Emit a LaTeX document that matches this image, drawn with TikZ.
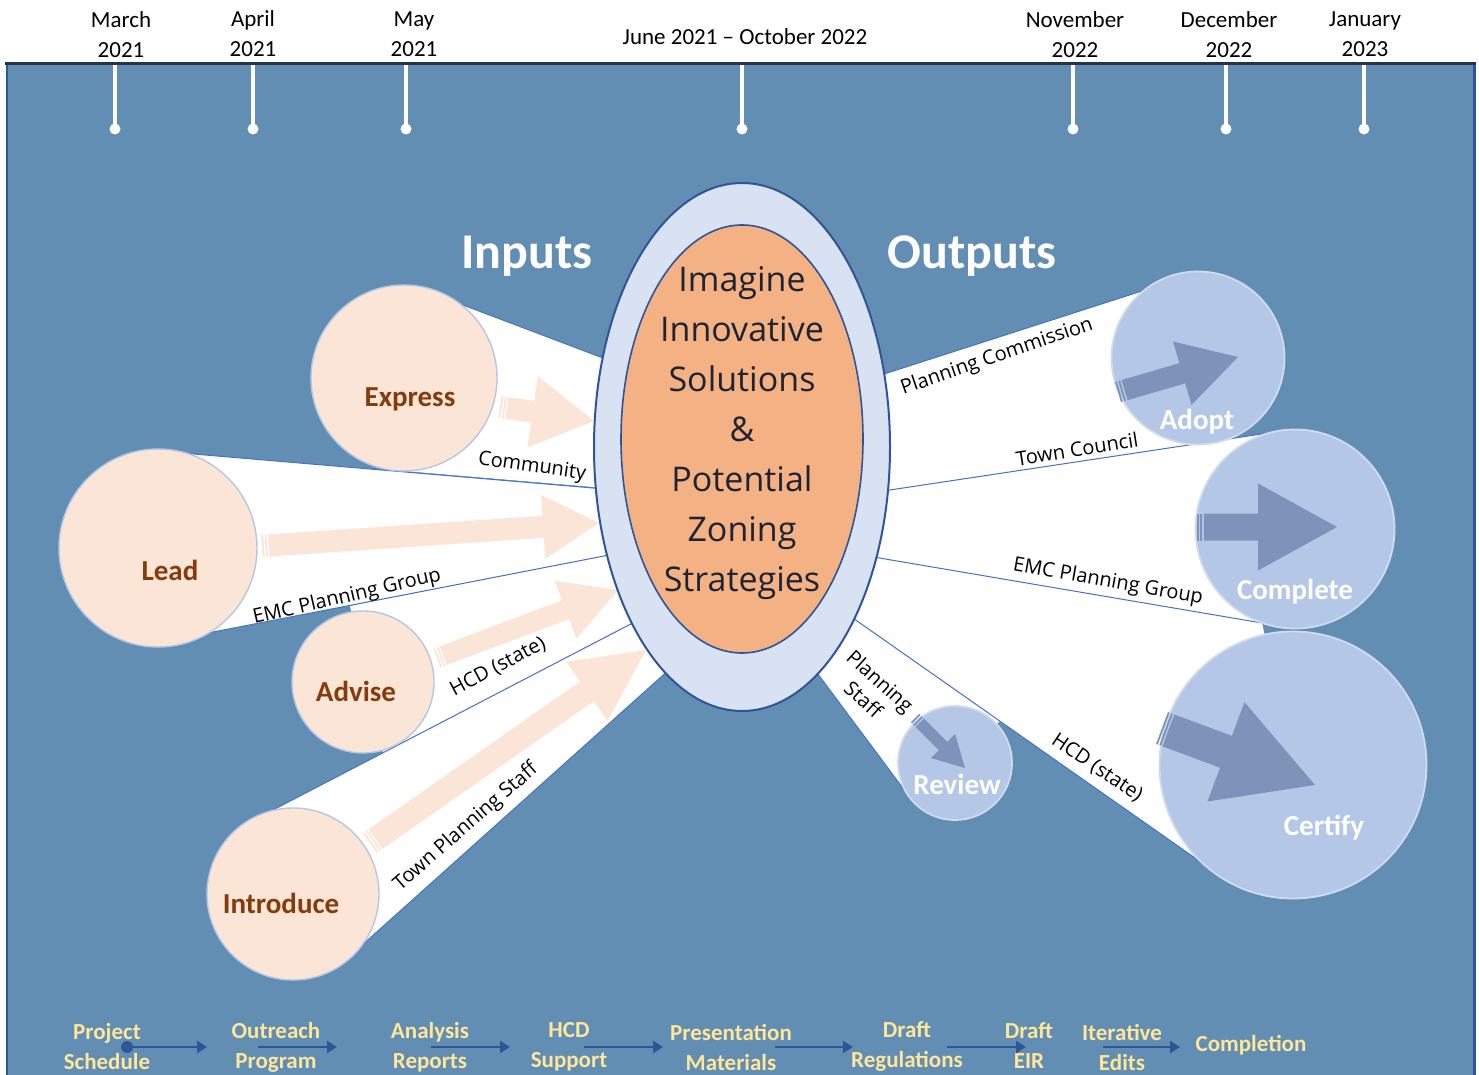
\documentclass[tikz,border=0pt]{standalone}
\usepackage{fontspec}
\setmainfont{Carlito}
\newfontfamily\osans{Open Sans}
\usetikzlibrary{arrows.meta,shapes.geometric}

\definecolor{bgblue}{RGB}{98,142,179}
\definecolor{edgeblue}{RGB}{68,114,196}
\definecolor{navy}{RGB}{47,85,151}
\definecolor{peach}{RGB}{251,229,214}
\definecolor{peachline}{RGB}{180,199,231}
\definecolor{lav}{RGB}{217,226,243}
\definecolor{orng}{RGB}{244,177,131}
\definecolor{outfill}{RGB}{180,199,231}
\definecolor{outedge}{RGB}{208,219,238}
\definecolor{outarrow}{RGB}{127,146,185}
\definecolor{brn}{RGB}{132,60,12}
\definecolor{yel}{RGB}{255,230,153}
\definecolor{ctext}{RGB}{30,36,51}
\definecolor{topline}{RGB}{38,50,72}

% striped block arrow: #1 colour, (#2,#3) tail, (#4,#5) tip, #6 body half width, #7 head half width, #8 head length
\newcommand\stripearrow[8]{%
  \pgfmathsetmacro\saang{atan2((#3)-(#5),(#4)-(#2))}%
  \pgfmathsetmacro\salen{veclen((#4)-(#2),(#5)-(#3))}%
  \begin{scope}[shift={(#2,#3)}, rotate=\saang]
    \fill[#1] (0,-#6) rectangle (1.8,#6);
    \fill[#1] (3.4,-#6) rectangle (5.2,#6);
    \fill[#1] (6.8,-#6) -- ({\salen-#8},-#6) -- ({\salen-#8},-#7) -- (\salen,0)
      -- ({\salen-#8},#7) -- ({\salen-#8},#6) -- (6.8,#6) -- cycle;
  \end{scope}}

\begin{document}
\begin{tikzpicture}[x=0.5pt,y=-0.5pt,
  tl/.style={font=\fontsize{11.5}{15}\selectfont, align=center, text=black, inner sep=0pt},
  incirc/.style={circle, fill=peach, draw=peachline, line width=0.7pt, inner sep=0pt},
  outcirc/.style={circle, fill=outfill, draw=outedge, line width=0.9pt, inner sep=0pt},
  inlbl/.style={font=\bfseries\fontsize{14.5}{17}\selectfont, text=brn, inner sep=0pt},
  outlbl/.style={font=\bfseries\fontsize{14.5}{17}\selectfont, text=white, inner sep=0pt},
  conn/.style={font=\osans\fontsize{10}{12.5}\selectfont, text=black, inner sep=0pt, align=center},
  bot/.style={font=\bfseries\fontsize{11.5}{15}\selectfont, text=yel, align=center, inner sep=0pt},
  bandedge/.style={draw=edgeblue, line width=0.5pt},
  botarrow/.style={draw=navy, line width=1.2pt, -{Triangle[length=5pt,width=6pt]}},
  tick/.style={draw=white, line width=2.2pt},
  head/.style={font=\bfseries\fontsize{25}{30}\selectfont, text=white, inner sep=0pt}
]
\useasboundingbox (0,0) rectangle (1479,1075);
\fill[white] (0,0) rectangle (1479,1075);
\fill[bgblue] (7,64) rectangle (1474,1075);
\draw[line width=0.6pt, navy] (7,64) -- (7,1075);
\draw[line width=1.5pt, navy] (1474,64) -- (1474,1075);
\draw[line width=1.5pt, topline] (5,64) -- (1476,64);

% timeline ticks
\foreach \x [count=\i] in {115,253,406,742,1073,1226,1364} {
  \coordinate (ts\i) at (\x,65);
  \coordinate (te\i) at (\x,129);
  \draw[tick] (ts\i) -- (te\i);
  \fill[white] (te\i) circle[radius=5.5];
}
\node[tl] (m1) at (121,35) {March\\2021};
\node[tl] (m2) at (253,34) {April\\2021};
\node[tl] (m3) at (414,34) {May\\2021};
\node[tl] (m4) at (745,37) {June 2021 -- October 2022};
\node[tl] (m5) at (1075,35) {November\\2022};
\node[tl] (m6) at (1229,35) {December\\2022};
\node[tl] (m7) at (1365,34) {January\\2023};

% white bands (inputs)
\fill[white] (455,302) -- (640,372) -- (640,491) -- (404,471) -- cycle;
\fill[white] (170,452) -- (640,492) -- (640,549) -- (172,640) -- cycle;
\fill[white] (350,605.8) -- (640,549) -- (650,614) -- (383,752.7) -- cycle;
\fill[white] (273,810) -- (650,614) -- (690,651) -- (360,947) -- cycle;
% white bands (outputs)
\fill[white] (850,385) -- (1145,290) -- (1198,358) -- (1198,444) -- (850,496) -- cycle;
\fill[white] (850,496) -- (1275,432) -- (1295,529) -- (1262,623) -- (850,553) -- cycle;
\fill[white] (850,553) -- (1262,623) -- (1293,765) -- (1235,886) -- (840,609) -- cycle;
\fill[white] (840,609) -- (1000,721) -- (955,764) -- (908,795) -- (800,650) -- cycle;

% band edges
\draw[bandedge] (455,302) -- (640,372);
\draw[bandedge] (170,452) -- (640,492);
\draw[bandedge] (172,640) -- (640,549);
\draw[bandedge] (273,810) -- (650,614);
\draw[bandedge] (360,947) -- (690,651);
\draw[bandedge] (850,385) -- (1145,290);
\draw[bandedge] (850,496) -- (1275,432);
\draw[bandedge] (850,553) -- (1262,623);
\draw[bandedge] (840,609) -- (1235,886);
\draw[bandedge] (800,650) -- (908,795);

% input arrows
\stripearrow{peach}{500}{407}{594}{421}{11}{36}{62}
\stripearrow{peach}{262}{546}{599}{523}{11}{32}{56}
\stripearrow{peach}{437}{658}{618}{590}{10}{31}{56}
\stripearrow{peach}{370}{843}{646}{650}{12}{36}{72}

% central ellipses
\node[ellipse, fill=lav, draw=navy, line width=1pt, minimum width=148pt, minimum height=264pt, inner sep=0pt] (outer) at (742,447) {};
\node[ellipse, fill=orng, draw=navy, line width=0.8pt, minimum width=121pt, minimum height=214pt, inner sep=0pt] (inner) at (742,439) {};
\node[font=\osans\fontsize{17}{25}\selectfont, text=ctext, align=center, inner sep=0pt] (core) at (742,433)
  {Imagine\\Innovative\\Solutions\\\&\\Potential\\Zoning\\Strategies};

\node[head] (inputs) at (527,256) {Inputs};
\node[head] (outputs) at (972,256) {Outputs};

% input circles
\node[incirc, minimum size=93pt] (express) at (404,378) {};
\node[incirc, minimum size=99pt] (lead) at (158,548) {};
\node[incirc, minimum size=71pt] (advise) at (363,682) {};
\node[incirc, minimum size=86pt] (introduce) at (293,894) {};
\node[inlbl] (lexpress) at (410,399) {Express};
\node[inlbl] (llead) at (170,570) {Lead};
\node[inlbl] (ladvise) at (356,691) {Advise};
\node[inlbl] (lintroduce) at (281,903) {Introduce};

% output circles
\node[outcirc, minimum size=86.5pt] (adopt) at (1198,358) {};
\node[outcirc, minimum size=99.5pt] (complete) at (1295,529) {};
\node[outcirc, minimum size=133.5pt] (certify) at (1293,765) {};
\node[outcirc, minimum size=57pt] (review) at (955,763) {};

% output arrows
\stripearrow{outarrow}{1118}{392}{1238}{357}{10.5}{33}{58}
\stripearrow{outarrow}{1197}{527}{1337}{527}{13.5}{43.5}{79}
\stripearrow{outarrow}{1162}{728}{1315}{785}{17}{53}{95}
\stripearrow{outarrow}{915}{718}{965}{768}{6}{17}{31}

\node[outlbl] (ladopt) at (1197,422) {Adopt};
\node[outlbl] (lcomplete) at (1295,592) {Complete};
\node[outlbl] (lcertify) at (1324,828) {Certify};
\node[outlbl] (lreview) at (957,784) {Review};

% connector labels
\node[conn, rotate=-8] (c1) at (532,467) {Community};
\node[conn, rotate=13] (c2) at (347,597) {EMC Planning Group};
\node[conn, rotate=28] (c3) at (498,667) {HCD (state)};
\node[conn, rotate=41] (c4) at (466,827) {Town Planning Staff};
\node[conn, rotate=19] (c5) at (997,357) {Planning Commission};
\node[conn, rotate=9] (c6) at (1077,449) {Town Council};
\node[conn, rotate=-10] (c7) at (1108,582) {EMC Planning Group};
\node[conn, rotate=-42] (c8) at (872,690) {Planning\\Staff};
\node[conn, rotate=-34] (c9) at (1097,768) {HCD (state)};

% bottom process row
\node[bot] (b1) at (107,1047) {Project\\Schedule};
\node[bot] (b2) at (276,1047) {Outreach\\Program};
\node[bot] (b3) at (430,1047) {Analysis\\Reports};
\node[bot] (b4) at (569,1047) {HCD\\Support};
\node[bot] (b5) at (731,1047) {Presentation\\Materials};
\node[bot] (b6) at (907,1046) {Draft\\Regulations};
\node[bot] (b7) at (1029,1046) {Draft\\EIR};
\node[bot] (b8) at (1122,1047) {Iterative\\Edits};
\node[bot] (b9) at (1251,1045) {Completion};

\foreach \s/\e [count=\i] in {127/207,258/337,431/510,584/663,775/853,947/1026,1103/1180} {
  \coordinate (as\i) at (\s,1047);
  \coordinate (ae\i) at (\e,1047);
  \draw[botarrow] (as\i) -- (ae\i);
}
\fill[navy] (as1) circle[radius=6];
\end{tikzpicture}
\end{document}
